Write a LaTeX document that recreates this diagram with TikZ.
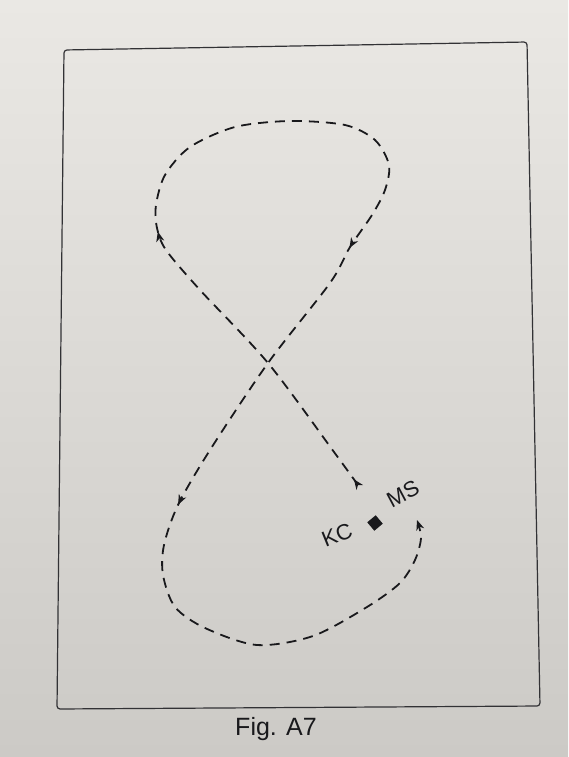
\documentclass[tikz,border=0pt]{standalone}
\usepackage{fontspec}
\setmainfont{Liberation Sans}
\usetikzlibrary{arrows.meta,decorations.markings}
\definecolor{Paper}{RGB}{234,232,228}
\definecolor{PaperDark}{RGB}{204,202,198}
\definecolor{Pen}{RGB}{25,25,28}
\definecolor{Frame}{RGB}{50,50,53}

\begin{document}
\begin{tikzpicture}[x=1pt, y=-1pt,
    >={Stealth[length=10pt, width=8pt, inset=3pt]},
    route/.style={Pen, line width=1.8pt, dash pattern=on 10pt off 7pt, ->,
                  decoration={markings,
                      mark=at position 7pt with {\arrow{>}},
                      mark=at position 0.22 with {\arrow{>}},
                      mark=at position 0.5 with {\arrow{>}},
                      mark=at position 0.71 with {\arrow{>}}},
                  postaction={decorate}},
    lbl/.style={font=\fontsize{22}{26}\selectfont, text=Pen, inner sep=0pt},
    spot/.style={rectangle, fill=Pen, minimum size=11pt, inner sep=0pt, rotate=40},
]
% paper and frame
\shade[top color=Paper, bottom color=PaperDark] (0,0) rectangle (568,757);
\useasboundingbox (0,0) rectangle (568,757);
\draw[Frame, line width=1.2pt, rounded corners=3pt]
    (64,50) -- (527,42) -- (540,706) -- (57,709) -- cycle;

% meeting point
\node[spot] (point) at (375,523) {};
\node[lbl, rotate=22] (kc) at (337,535) {KC};
\node[lbl, rotate=28] (ms) at (403,494) {MS};

\coordinate (start) at (358,485);
\coordinate (finish) at (417,520);

% figure-eight route
\draw[route] plot[smooth] coordinates {(start) (334,452) (268,363) (200,290) (166,250)
    (157,228) (156,205) (165,175) (190,147) (235,127) (290,121) (345,125) (375,140)
    (389,165) (385,190) (372,215) (350,247) (330,283) (268,363) (210,450) (178,505)
    (164,545) (163,575) (175,607) (205,628) (257,645) (313,636) (367,607) (400,583)
    (415,560) (421,538) (finish)};

\node[lbl, font=\fontsize{25}{30}\selectfont] (caption) at (276,729) {Fig. A7};
\end{tikzpicture}
\end{document}
